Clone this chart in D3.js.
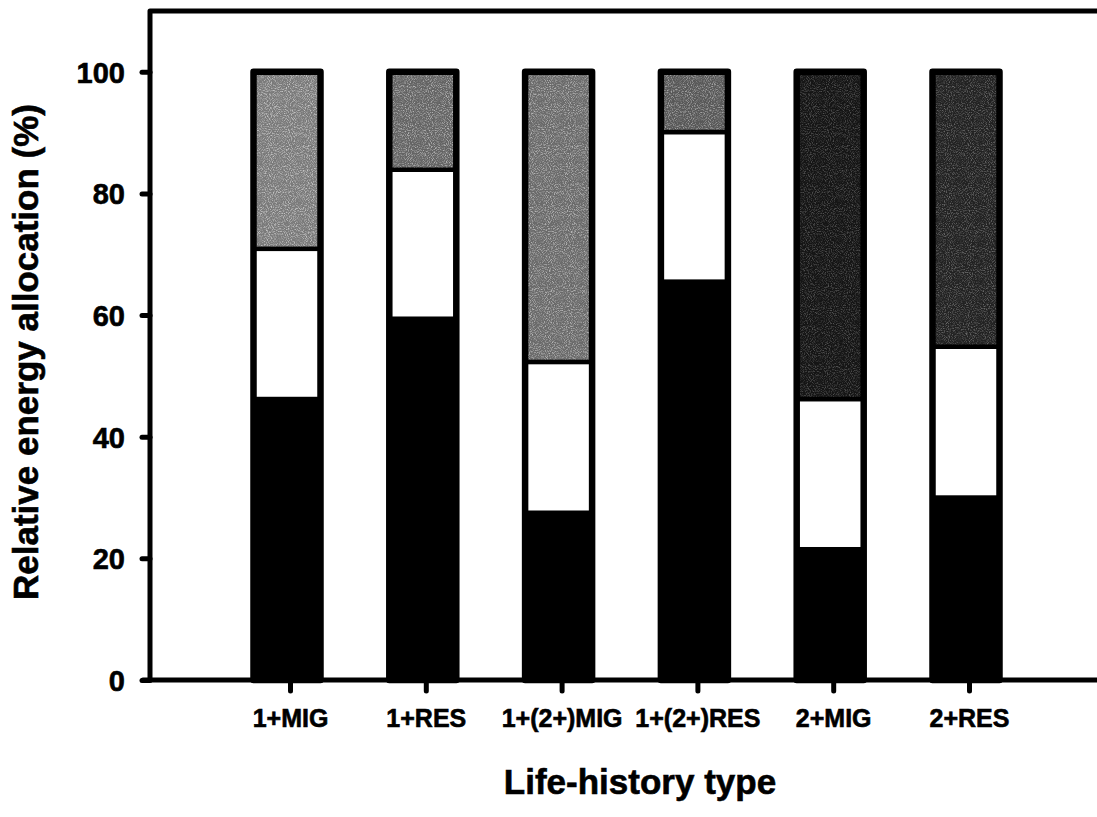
<!DOCTYPE html>
<html>
<head>
<meta charset="utf-8">
<script src="https://cdn.jsdelivr.net/npm/d3@7"></script>
<style>
  html, body { margin: 0; padding: 0; background: #fff; }
  svg { display: block; }
  text { font-family: "Liberation Sans", Arial, Helvetica, sans-serif; font-weight: bold; fill: #000; stroke: #000; stroke-width: 0.6px; }
</style>
</head>
<body>
<svg id="chart" width="1097" height="817"></svg>
<script>
// ---- data ----
const categories = ["1+MIG", "1+RES", "1+(2+)MIG", "1+(2+)RES", "2+MIG", "2+RES"];
const blackPart = [46.2, 59.4, 27.5, 65.5, 21.5, 30.0];
const whitePart = [24.7, 24.5, 24.8, 24.6, 24.7, 24.8];
const grayPart  = [29.1, 16.1, 47.7, 9.9, 53.8, 45.2];
const yTicks = [0, 20, 40, 60, 80, 100];
const yLabel = "Relative energy allocation (%)";
const xLabel = "Life-history type";

// ---- styles ----
const grayFills = ["#7a7a7a", "#646464", "#6a6a6a", "#585858", "#151515", "#222222"];
const speckleOpacity = [0.55, 0.5, 0.5, 0.45, 0.25, 0.3];

const svg = d3.select("#chart");
const W = 1097, H = 817;
const axisX = 150, axisBottom = 680, topY = 11;

// speckle texture filter (visual style only)
const defs = svg.append("defs");
const f = defs.append("filter").attr("id", "speckle")
  .attr("x", 0).attr("y", 0).attr("width", "100%").attr("height", "100%");
f.append("feTurbulence").attr("type", "fractalNoise").attr("baseFrequency", 0.95)
  .attr("numOctaves", 2).attr("seed", 7).attr("result", "noise");
f.append("feColorMatrix").attr("in", "noise").attr("type", "matrix")
  .attr("values", "0 0 0 0 1  0 0 0 0 1  0 0 0 0 1  3 0 0 0 -1.35").attr("result", "spots");
f.append("feComposite").attr("in", "spots").attr("in2", "SourceGraphic").attr("operator", "in");

const y = d3.scaleLinear().domain([0, 110]).range([axisBottom, topY]);
const x = d3.scalePoint().domain(categories).range([290, 969]);
const barW = 67, barShift = -3;

const rows = categories.map((c, i) => ({ cat: c, black: blackPart[i], white: whitePart[i], gray: grayPart[i], idx: i }));
const keys = ["black", "white", "gray"];
const stacked = d3.stack().keys(keys)(rows);

const gBars = svg.append("g");
const bx = d => x(d.data.cat) + barShift - barW / 2;
stacked.forEach(layer => {
  const sel = gBars.selectAll(null).data(layer).enter();
  sel.append("rect")
    .attr("x", bx).attr("width", barW)
    .attr("y", d => y(d[1]))
    .attr("height", d => y(d[0]) - y(d[1]))
    .attr("fill", d => layer.key === "black" ? "#000" : layer.key === "white" ? "#fff" : grayFills[d.data.idx]);
  if (layer.key === "gray") {
    sel.append("rect")
      .attr("x", bx).attr("width", barW)
      .attr("y", d => y(d[1]))
      .attr("height", d => y(d[0]) - y(d[1]))
      .attr("fill", "#fff")
      .attr("opacity", d => speckleOpacity[d.data.idx])
      .attr("filter", "url(#speckle)");
  }
  sel.append("rect")
    .attr("x", bx).attr("width", barW)
    .attr("y", d => y(d[1]))
    .attr("height", d => y(d[0]) - y(d[1]))
    .attr("fill", "none")
    .attr("stroke", "#000")
    .attr("stroke-width", 4.5);
});
// outer outlines
gBars.selectAll(null).data(rows).enter().append("rect")
  .attr("x", d => x(d.cat) + barShift - barW / 2)
  .attr("width", barW)
  .attr("y", d => y(d.black + d.white + d.gray))
  .attr("height", d => y(0) - y(d.black + d.white + d.gray))
  .attr("fill", "none")
  .attr("stroke", "#000")
  .attr("stroke-width", 6.5)
  .attr("stroke-linejoin", "round");

// ---- y axis ----
const yAxis = d3.axisLeft(y).tickValues(yTicks).tickSize(8).tickPadding(17);
const gy = svg.append("g").attr("transform", `translate(${axisX},0)`).call(yAxis);
gy.select(".domain").remove();
gy.selectAll(".tick line").attr("stroke", "#000").attr("stroke-width", 5).attr("stroke-linecap", "round");
gy.selectAll(".tick text").style("font-size", "29px").attr("dy", "0.36em");

// frame: left axis + top line
svg.append("path")
  .attr("d", `M${axisX},${y(0)} L${axisX},${y(110)} L${W + 5},${y(110)}`)
  .attr("fill", "none").attr("stroke", "#000").attr("stroke-width", 5)
  .attr("stroke-linejoin", "round");

// ---- x axis ----
const xAxis = d3.axisBottom(x).tickSize(11).tickPadding(18);
const gx = svg.append("g").attr("transform", `translate(0,${axisBottom})`).call(xAxis);
gx.select(".domain").remove();
gx.selectAll(".tick line").attr("stroke", "#000").attr("stroke-width", 5).attr("stroke-linecap", "round");
gx.selectAll(".tick text").style("font-size", "25px");

svg.append("line")
  .attr("x1", 143).attr("x2", W + 5)
  .attr("y1", axisBottom).attr("y2", axisBottom)
  .attr("stroke", "#000").attr("stroke-width", 5).attr("stroke-linecap", "round");

// ---- titles ----
svg.append("text")
  .attr("transform", `translate(38,352) rotate(-90)`)
  .attr("text-anchor", "middle")
  .style("font-size", "35px")
  .text(yLabel);

svg.append("text")
  .attr("x", 640).attr("y", 794)
  .attr("text-anchor", "middle")
  .style("font-size", "35px")
  .text(xLabel);
</script>
</body>
</html>
